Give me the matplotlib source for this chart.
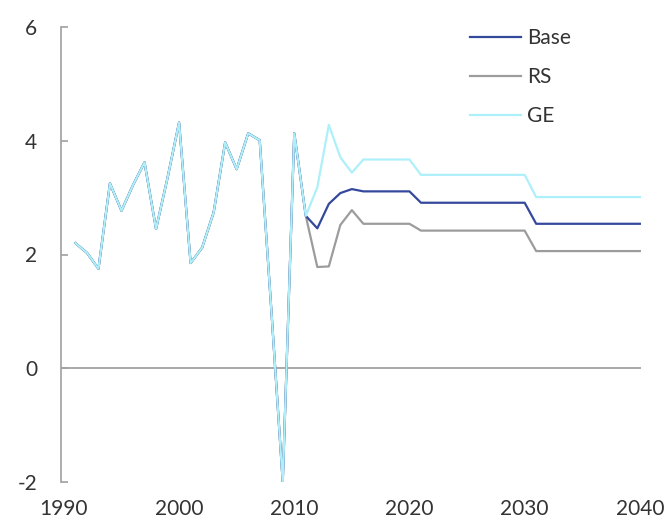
import numpy as np
import matplotlib
matplotlib.use("Agg")
from matplotlib import pyplot as plt

plt.rcParams['font.family'] = ['Lato', 'DejaVu Sans']
plt.rcParams['axes.unicode_minus'] = False

years = np.arange(1991, 2041)

# history 1991-2011, shared by all scenarios
hist = [2.20, 2.03, 1.75, 3.25, 2.77, 3.22, 3.62, 2.45, 3.35, 4.32,
        1.85, 2.12, 2.74, 3.97, 3.50, 4.13, 4.01, 1.05, -2.00, 4.13,
        2.68]

# projections 2012-2040
base_proj = [2.46, 2.89, 3.08, 3.15] + [3.11] * 5 + [2.91] * 10 + [2.54] * 10
rs_proj = [1.78, 1.79, 2.52, 2.78] + [2.54] * 5 + [2.42] * 10 + [2.06] * 10
ge_proj = [3.18, 4.28, 3.71, 3.44] + [3.67] * 5 + [3.40] * 10 + [3.01] * 10

base = hist + base_proj
rs = hist + rs_proj
ge = hist + ge_proj

c_base = '#34489c'
c_rs = '#9c9c9c'
c_ge = '#aef0fa'

fig = plt.figure(figsize=(6.67, 5.19), dpi=100)
ax = fig.add_axes([61/667, 1 - 482/519, (641 - 61)/667, (482 - 27)/519])

ax.axhline(0, color='#999999', linewidth=1.2, zorder=1)
ax.plot(years, base, color=c_base, linewidth=1.6, label='Base', zorder=3)
ax.plot(years, rs, color=c_rs, linewidth=1.6, label='RS', zorder=2)
ax.plot(years, ge, color=c_ge, linewidth=1.6, label='GE', zorder=4)

ax.set_xlim(1989.75, 2040.1)
ax.set_ylim(-2, 6)
ax.set_xticks([1990, 2000, 2010, 2020, 2030, 2040])
ax.set_yticks([-2, 0, 2, 4, 6])

for s in ['top', 'right', 'bottom']:
    ax.spines[s].set_visible(False)
ax.spines['left'].set_color('#a0a0a0')
ax.spines['left'].set_linewidth(1.2)

ax.tick_params(axis='y', direction='in', length=5, width=1.2, color='#a0a0a0',
               pad=17, labelsize=15, labelcolor='#333333')
ax.tick_params(axis='x', length=0, pad=12, labelsize=15, labelcolor='#333333')

leg = ax.legend(loc='upper left', bbox_to_anchor=(470/667, 1 - 28/519),
                bbox_transform=fig.transFigure, frameon=False, fontsize=15,
                borderaxespad=0, borderpad=0, handlelength=2.45,
                handletextpad=0.3, labelspacing=0.92)
for t in leg.get_texts():
    t.set_color('#333333')

fig.savefig('out.png', dpi=100)
